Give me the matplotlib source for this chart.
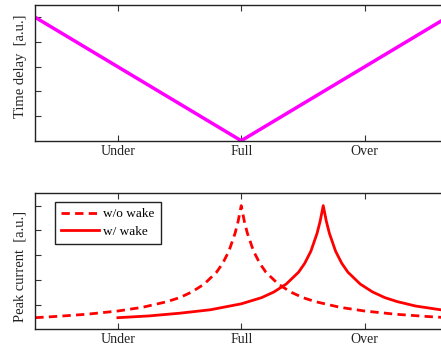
import matplotlib
matplotlib.use('Agg')
import matplotlib.pyplot as plt

# --- data ---
tick_pos = [-1, 0, 1]
tick_labels = ['Under', 'Full', 'Over']

delay_x = [-1.67, 0.0, 1.67]
delay_y = [5.0, 0.0, 5.0]

nowake_x = [-1.67, -1.5, -1.25, -1.0, -0.8, -0.6, -0.5, -0.4, -0.3, -0.2, -0.15,
            -0.1, -0.05, -0.025, 0.0, 0.025, 0.05, 0.1, 0.15, 0.2, 0.3, 0.4, 0.5,
            0.6, 0.8, 1.0, 1.25, 1.5, 1.67]
nowake_y = [0.47, 0.52, 0.61, 0.74, 0.89, 1.12, 1.28, 1.51, 1.83, 2.31, 2.67,
            3.16, 3.88, 4.37, 5.0, 4.37, 3.88, 3.16, 2.67, 2.31, 1.83, 1.51, 1.28,
            1.12, 0.89, 0.74, 0.61, 0.52, 0.47]

wake_x = [-1.0, -0.75, -0.5, -0.25, 0.0, 0.165, 0.265, 0.365, 0.465, 0.515,
          0.565, 0.615, 0.64, 0.665, 0.69, 0.715, 0.765, 0.815, 0.865, 0.965,
          1.065, 1.165, 1.265, 1.415, 1.67]
wake_y = [0.47, 0.54, 0.65, 0.79, 1.03, 1.28, 1.51, 1.83, 2.31, 2.67,
          3.16, 3.88, 4.37, 5.0, 4.37, 3.88, 3.16, 2.67, 2.31, 1.83,
          1.51, 1.28, 1.12, 0.94, 0.75]

plt.rcParams['font.family'] = ['Liberation Serif', 'DejaVu Serif']

fig = plt.figure(figsize=(4.41, 3.47), dpi=100)
ax1 = fig.add_axes([0.080, 0.5945, 0.934, 0.391])
ax2 = fig.add_axes([0.080, 0.051, 0.934, 0.392])


def style(ax, label, label_y):
    ax.set_xlim(-1.67, 1.67)
    ax.set_ylim(0, 5.5)
    ax.set_xticks(tick_pos)
    ax.set_xticklabels(tick_labels, fontsize=10)
    ax.set_yticks([1, 2, 3, 4, 5])
    ax.set_yticklabels([])
    ax.tick_params(direction='in', top=True, right=True, length=4.5,
                   width=0.8, colors='#333333', labelcolor='#222222', pad=3)
    for s in ax.spines.values():
        s.set_linewidth(1.0)
        s.set_color('#222222')
    ax.set_ylabel(label, fontsize=10.5, color='#222222')
    ax.yaxis.set_label_coords(-0.021, label_y)


ax1.plot(delay_x, delay_y, color='#ff00ff', lw=2.5)
style(ax1, 'Time delay  [a.u.]', 0.55)

ax2.plot(nowake_x, nowake_y, color='#ff0000', lw=2.0,
         linestyle=(0, (3.0, 1.9)), label='w/o wake')
ax2.plot(wake_x, wake_y, color='#ff0000', lw=2.0, label='w/ wake')
style(ax2, 'Peak current  [a.u.]', 0.465)

leg = ax2.legend(loc='upper left', bbox_to_anchor=(0.048, 0.934),
                 borderaxespad=0, fontsize=9.5, handlelength=2.9,
                 handletextpad=0.3, labelspacing=0.4, borderpad=0.45,
                 fancybox=False, framealpha=1)
leg.get_frame().set_edgecolor('#222222')
leg.get_frame().set_linewidth(1.0)

fig.savefig('out.png', dpi=100)
